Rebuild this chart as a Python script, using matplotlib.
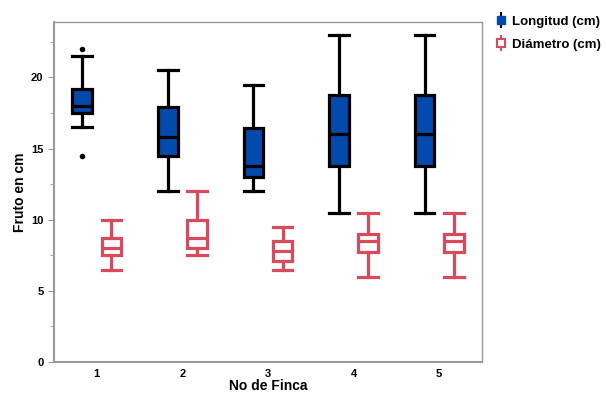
import matplotlib.pyplot as plt
from matplotlib.lines import Line2D
from matplotlib.legend_handler import HandlerTuple

plt.rcParams["font.family"] = ["Liberation Sans", "DejaVu Sans"]

# data (whisker low, Q1, median, Q3, whisker high)
fincas = [1, 2, 3, 4, 5]
long_low = [16.5, 12.0, 12.0, 10.5, 10.5]
long_q1 = [17.5, 14.5, 13.0, 13.8, 13.8]
long_med = [18.0, 15.8, 13.8, 16.0, 16.0]
long_q3 = [19.2, 17.9, 16.45, 18.75, 18.75]
long_high = [21.5, 20.5, 19.5, 23.0, 23.0]
long_fliers = [[22.0, 14.5], [], [], [], []]

diam_low = [6.5, 7.5, 6.5, 6.0, 6.0]
diam_q1 = [7.5, 8.0, 7.1, 7.75, 7.75]
diam_med = [8.0, 8.75, 7.8, 8.5, 8.5]
diam_q3 = [8.7, 10.0, 8.5, 9.0, 9.0]
diam_high = [10.0, 12.0, 9.5, 10.5, 10.5]

BLUE = "#034aad"
RED = "#d84a5c"


def make_stats(lo, q1, med, q3, hi, fl=None):
    out = []
    for i in range(len(lo)):
        out.append({"whislo": lo[i], "q1": q1[i], "med": med[i], "q3": q3[i],
                    "whishi": hi[i], "fliers": fl[i] if fl else []})
    return out


fig = plt.figure(figsize=(6.06, 3.94), dpi=100)
ax = fig.add_axes([54 / 606, 1 - 362 / 394, 428 / 606, 340 / 394])

off = 0.17
w = 0.23
lw = 2.3
ax.bxp(make_stats(long_low, long_q1, long_med, long_q3, long_high, long_fliers),
       positions=[f - off for f in fincas], widths=w, patch_artist=True,
       showcaps=True, capwidths=w,
       boxprops=dict(facecolor=BLUE, edgecolor="black", linewidth=lw),
       medianprops=dict(color="black", linewidth=lw),
       whiskerprops=dict(color="black", linewidth=lw),
       capprops=dict(color="black", linewidth=lw),
       flierprops=dict(marker="o", markersize=3, markerfacecolor="black",
                       markeredgecolor="black"))
ax.bxp(make_stats(diam_low, diam_q1, diam_med, diam_q3, diam_high),
       positions=[f + off for f in fincas], widths=w, patch_artist=True,
       capwidths=w,
       boxprops=dict(facecolor="white", edgecolor=RED, linewidth=lw),
       medianprops=dict(color=RED, linewidth=lw),
       whiskerprops=dict(color=RED, linewidth=lw),
       capprops=dict(color=RED, linewidth=lw))

ax.set_xlim(0.5, 5.5)
ax.set_ylim(0, 23.9)
ax.set_xticks(fincas)
ax.set_xticklabels([str(f) for f in fincas])
ax.set_yticks([0, 5, 10, 15, 20])
ax.set_yticks([2.5, 7.5, 12.5, 17.5, 22.5], minor=True)
ax.tick_params(axis="both", labelsize=8, colors="#999999", labelcolor="black")
ax.tick_params(axis="x", length=0, pad=5)
ax.tick_params(axis="y", which="major", length=4)
ax.tick_params(axis="y", which="minor", length=3, colors="#999999")
for lab in ax.get_xticklabels() + ax.get_yticklabels():
    lab.set_fontweight("bold")
for s in ax.spines.values():
    s.set_color("#999999")
    s.set_linewidth(1)
ax.spines["left"].set_linewidth(1.5)
ax.spines["bottom"].set_linewidth(1.5)

ax.set_xlabel("No de Finca", fontsize=10, fontweight="bold", labelpad=0)
ax.set_ylabel("Fruto en cm", fontsize=10, fontweight="bold", labelpad=3)

h_long = (Line2D([], [], marker="|", color="black", markersize=12, linestyle="none",
                 markeredgewidth=1.5),
          Line2D([], [], marker="s", markersize=6, markerfacecolor=BLUE,
                 markeredgecolor=BLUE, linestyle="none"))
h_diam = (Line2D([], [], marker="|", color=RED, markersize=12, linestyle="none",
                 markeredgewidth=1.5),
          Line2D([], [], marker="s", markersize=6, markerfacecolor="white",
                 markeredgecolor=RED, markeredgewidth=1.5, linestyle="none"))
fig.legend([h_long, h_diam], ["Longitud (cm)", "Diámetro (cm)"],
           handler_map={tuple: HandlerTuple(ndivide=1)},
           loc="upper left", bbox_to_anchor=(484 / 606, 1 - 4 / 394),
           frameon=False, handlelength=0.8, handletextpad=0.4,
           labelspacing=0.8, prop=dict(weight="bold", size=9.5))

fig.savefig("out.png", dpi=100)
